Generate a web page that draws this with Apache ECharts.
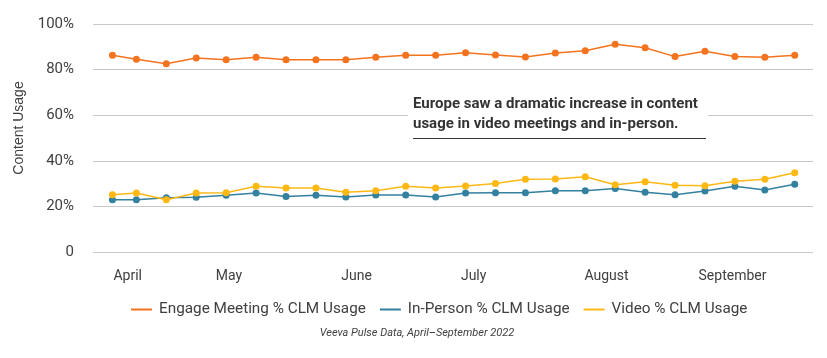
<!DOCTYPE html>
<html>
<head>
<meta charset="utf-8">
<script src="https://cdn.jsdelivr.net/npm/echarts@6/dist/echarts.min.js"></script>
<style>html,body{margin:0;padding:0;background:#fff}#c{width:827px;height:358px}</style>
</head>
<body>
<div id="c"></div>
<script>
// weekly points (x in weeks from first data point)
const weekPos = [0, 0.8, 1.8, 2.8, 3.8, 4.8, 5.8, 6.8, 7.8, 8.8, 9.8, 10.8, 11.8, 12.8, 13.8, 14.8, 15.8, 16.8, 17.8, 18.8, 19.8, 20.8, 21.8, 22.8];
const engage = [86.3, 84.5, 82.6, 85.1, 84.3, 85.4, 84.3, 84.3, 84.3, 85.4, 86.3, 86.3, 87.4, 86.4, 85.5, 87.3, 88.3, 91.1, 89.6, 85.7, 88.0, 85.7, 85.4, 86.3];
const inPerson = [22.9, 22.9, 23.8, 24.0, 24.9, 25.9, 24.3, 24.9, 24.1, 25.0, 25.0, 24.1, 25.9, 26.0, 26.0, 26.9, 26.9, 27.8, 26.2, 25.1, 26.8, 28.8, 27.2, 29.7];
const video = [25.1, 25.9, 22.9, 25.9, 26.0, 28.8, 28.1, 28.1, 26.2, 26.9, 28.8, 28.1, 28.9, 30.0, 31.9, 32.0, 33.0, 29.5, 30.8, 29.3, 29.1, 31.0, 31.9, 34.8];
const monthPos = [0.51, 3.89, 8.16, 12.07, 16.51, 20.72];
const monthLabels = ['April', 'May', 'June', 'July', 'August', 'September'];
const yTicks = [0, 20, 40, 60, 80, 100];
const seriesNames = ['Engage Meeting % CLM Usage', 'In-Person % CLM Usage', 'Video % CLM Usage'];
const colors = ['#F4731F', '#34809F', '#FDB813'];

const pair = arr => arr.map((v, i) => [weekPos[i], v]);
const chart = echarts.init(document.getElementById('c'), null, {renderer: 'canvas'});
const font = 'Roboto, "Noto Sans", sans-serif';
const mk = (name, data, color, z) => ({
  name, type: 'line', data: pair(data), z,
  symbol: 'circle', symbolSize: 7, color,
  lineStyle: {width: 1.5, color}, itemStyle: {color},
  emphasis: {disabled: true}, animation: false
});
chart.setOption({
  animation: false,
  grid: {left: 93, right: 14, top: 24, bottom: 106, containLabel: false},
  title: {
    text: 'Veeva Pulse Data, April\u2013September 2022',
    left: 417, top: 328, textAlign: 'center', padding: 0,
    textStyle: {fontFamily: font, fontSize: 11, fontStyle: 'italic', fontWeight: 'normal', color: '#404040'}
  },
  legend: {
    data: seriesNames.map((n, i) => ({name: n, icon: 'rect', itemStyle: {color: colors[i]}})),
    left: 131, top: 302, padding: 0, itemWidth: 21, itemHeight: 2, itemGap: 14,
    textStyle: {fontFamily: font, fontSize: 15.3, color: '#404040', padding: [0, 0, 0, 2]},
    selectedMode: false
  },
  xAxis: {
    type: 'value', min: -0.65, max: 23.41,
    axisLine: {show: false}, axisTick: {show: false}, splitLine: {show: false},
    axisLabel: {
      customValues: monthPos,
      formatter: (v) => { const i = monthPos.indexOf(v); return i >= 0 ? monthLabels[i] : ''; },
      fontFamily: font, fontSize: 14, color: '#404040', margin: 17
    }
  },
  yAxis: {
    type: 'value', min: 0, max: 100, interval: 20,
    name: 'Content Usage', nameLocation: 'middle', nameGap: 67, nameRotate: 90,
    nameTextStyle: {fontFamily: 'Liberation Sans, Arial, sans-serif', fontSize: 14, color: '#404040', padding: [0, 0, 0, 20]},
    axisLine: {show: false}, axisTick: {show: false},
    splitLine: {lineStyle: {color: '#C8C8C8', width: 1}},
    axisLabel: {
      formatter: v => yTicks.indexOf(v) === 0 ? '0' : v + '%',
      fontFamily: font, fontSize: 15, color: '#404040', margin: 19
    }
  },
  series: [
    mk(seriesNames[0], engage, colors[0], 3),
    mk(seriesNames[1], inPerson, colors[1], 2),
    mk(seriesNames[2], video, colors[2], 4)
  ],
  graphic: [
    {type: 'rect', left: 408, top: 92, shape: {width: 300, height: 42}, style: {fill: '#fff'}, z: 50},
    {type: 'text', left: 413, top: 94, z: 51,
     style: {text: 'Europe saw a dramatic increase in content\nusage in video meetings and in-person.',
       font: 'bold 15px Roboto, "Noto Sans", sans-serif', fill: '#333333', lineHeight: 20}},
    {type: 'line', z: 51, shape: {x1: 413, y1: 138.5, x2: 706, y2: 138.5}, style: {stroke: '#333333', lineWidth: 1}}
  ]
});
</script>
</body>
</html>
